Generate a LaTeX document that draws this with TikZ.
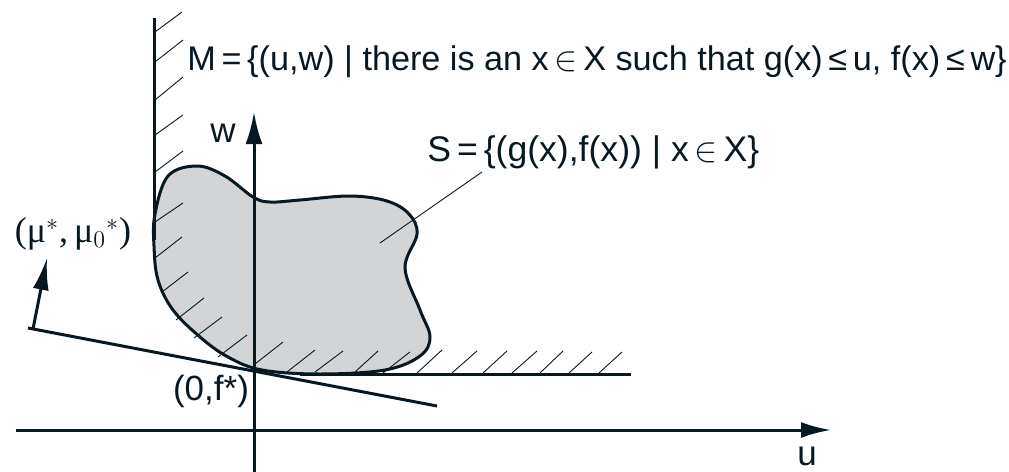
\documentclass[tikz,border=0pt]{standalone}
\usepackage{fontspec}
\setmainfont{Liberation Sans}
\newfontfamily\serifg{Liberation Serif}
\usetikzlibrary{arrows.meta}
\definecolor{ink}{RGB}{8,24,34}
\definecolor{blobfill}{RGB}{210,212,214}
\begin{document}
\begin{tikzpicture}[x=0.5pt,y=-0.5pt,
  thick line/.style={draw=ink,line width=1.5pt},
  hatch/.style={draw=ink,line width=0.45pt},
  lbl/.style={text=ink,inner sep=0pt,font=\fontsize{17.5}{20}\selectfont},
  arr/.style={-{Latex[length=16pt,width=8.5pt]}}]
\useasboundingbox (0,0) rectangle (1009,472);
% blob S
\draw[thick line,fill=blobfill] plot[smooth cycle,tension=0.6] coordinates {
 (155,214) (168,176) (197,166) (225,176) (253,197) (270,202) (300,200)
 (350,196) (387,201) (409,214) (417,234) (405,268) (420,310) (430,337)
 (420,356) (385,370) (320,374) (262,370) (228,357) (200,337) (173,310)
 (158,280) (154,246)};
% M boundary
\draw[thick line] (154,18) -- (154,240);
\draw[thick line] (300,374) -- (631,374);
% hatches
\foreach \a/\b/\c/\d in {155/32/182/12, 155/62/183/40, 155/100/183/77, 155/135/183/115,
  155/172/183/151, 155/222/183/203, 155/258/182/237, 162/292/188/272, 176/320/204/298,
  194/338/222/317, 218/357/247/335, 255/364/283/342, 287/372/315/350, 315/372/343/351,
  355/372/378/351, 383/373/410/352, 417/373/442/350, 452/373/477/351, 483/373/507/351,
  512/373/537/351, 540/373/563/351, 569/373/592/352, 599/373/622/352}
  \draw[hatch] (\a,\b) -- (\c,\d);
% axes
\coordinate (uL) at (16,430); \coordinate (uR) at (831,430);
\coordinate (wB) at (254,472); \coordinate (wT) at (254,112);
\draw[thick line,-{Latex[length=15pt,width=8pt]}] (uL) -- (uR);
\draw[thick line,arr] (wB) -- (wT);
% supporting line and normal
\coordinate (sA) at (28,328); \coordinate (sB) at (437,406);
\draw[thick line] (sA) -- (sB);
\coordinate (nA) at (33,329); \coordinate (nB) at (47,258);
\draw[thick line,-{Latex[length=16pt,width=8pt]}] (nA) -- (nB);
% labels
\node[lbl,anchor=base west,font=\fontsize{17.1}{20}\selectfont] (Mlab) at (187,70) {M\,=\,\{(u,w) | there is an x\,$\in$\,X such that g(x)\,≤\,u, f(x)\,≤\,w\}};
\node[lbl,anchor=base west,font=\fontsize{17.8}{20}\selectfont] (Slab) at (427,161) {S\,=\,\{(g(x),f(x)) | x\,$\in$\,X\}};
\coordinate (lA) at (482,172); \coordinate (lB) at (380,243);
\draw[hatch] (lA) -- (lB);
\node[lbl] (wlab) at (223,133) {w};
\node[lbl] (ulab) at (807,456) {u};
\node[lbl] (flab) at (211,391) {(0,f*)};
\node[text=ink,inner sep=0pt,font=\fontsize{18}{21}\selectfont] (mulab) at (73,234)
  {\serifg(μ$^*$,\,μ$_0{}^*$)};
\end{tikzpicture}
\end{document}
